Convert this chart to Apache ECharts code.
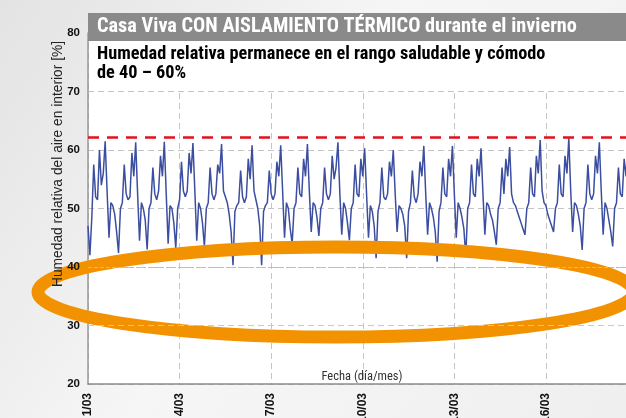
<!DOCTYPE html>
<html><head><meta charset="utf-8">
<script src="https://cdn.jsdelivr.net/npm/echarts@6/dist/echarts.min.js"></script>
<style>html,body{margin:0;padding:0;background:#f2f2f2;}#c{width:626px;height:418px;}</style>
</head><body><div id="c"></div>
<script>
const titleText = 'Casa Viva CON AISLAMIENTO TÉRMICO durante el invierno';
const subtitleLines = ['Humedad relativa permanece en el rango saludable y cómodo', 'de 40 – 60%'];
const yAxisTitle = 'Humedad relativa del aire en interior [%]';
const xAxisTitle = 'Fecha (día/mes)';
const xTickLabels = ['1/03', '4/03', '7/03', '10/03', '13/03', '16/03', '19/03'];
const stepHours = 1.5;          // one reading every 1.5 h starting 1/03 00:00
const upperLimit = 62.1;        // red dashed line
const comfortLines = [40, 30];  // faint pink lines
// relative humidity [%]
const humidity = [
  47, 42, 48.5, 57.5, 52, 51.5, 60, 54, 56,
  61.5, 53, 45, 51, 50.5, 49, 46, 42.4, 50, 51, 57.5, 52.5, 51.5, 52, 59.5, 55.5,
  61.3, 52.5, 44.5, 51, 50, 48, 43, 50, 51, 57, 52.5, 51.5, 53, 59, 55.5,
  61.4, 52.5, 44, 50.5, 50, 47.5, 43.2, 50, 51.5, 58, 53, 52, 53, 59.5, 56,
  61.2, 53, 44.5, 51, 50, 47.5, 43.5, 50, 51, 57, 52.5, 51.5, 52.5, 57.5, 56,
  61, 53, 52, 51, 49, 46, 40.3, 49.5, 50.5, 51, 56.5, 52, 51, 52, 58.5, 55,
  60.8, 53, 51.5, 50, 47, 40.3, 49.5, 50.5, 51, 56.5, 52.5, 51.5, 52.5, 58, 55.5,
  60.8, 53, 45, 51, 50, 46.5, 44, 50, 51, 57, 52.5, 52, 58.5, 55.5,
  61, 53, 46, 51, 50.5, 48.5, 45.3, 50, 51, 57, 52.5, 51.5, 52.5, 59, 55, 57,
  61.3, 52.5, 45.5, 51, 50, 47.5, 44.6, 50, 51, 57.5, 52.5, 52, 58.5, 55.5,
  60.3, 52.5, 45, 50.5, 49.5, 47, 41.5, 49.5, 51, 57, 52, 51.5, 52.5, 58, 55.5,
  60, 52.5, 46, 50.5, 50, 49, 47, 41.5, 49.5, 51, 56.5, 52, 51, 52.5, 58, 55.5,
  60.7, 52.5, 45.5, 51, 50, 48.5, 46, 40.9, 49.5, 51, 57, 52.5, 52, 58.5, 55.5,
  60.7, 52.5, 45, 51, 50, 48.5, 46.5, 41.8, 50, 51, 57.5, 52.5, 52, 58.5, 55.5,
  60.3, 52.5, 45.5, 51, 50.5, 49, 48, 46, 43.8, 50, 51, 57, 52.5, 58.5, 55.5,
  60.5, 52.5, 51, 50.5, 49.5, 48.5, 47.5, 46.5, 45.5, 50, 51, 57, 52.5, 52, 59, 56,
  61.7, 53, 51, 50.5, 49, 48, 47, 46, 50, 51, 57.5, 52.5, 52, 59, 56,
  62, 53, 46, 51, 50.5, 49, 47, 42.9, 50, 51, 57.5, 52.5, 51.5, 52.5, 59, 56,
  61.3, 53, 45.5, 51, 50, 48, 46, 43.5, 50, 51, 57, 52.5, 52, 58.5, 55.5,
  61, 53, 45, 51, 50, 48
];

const narrow = '"Liberation Sans Narrow", "Roboto Condensed", "DejaVu Sans Condensed", sans-serif';
const chart = echarts.init(document.getElementById('c'), null, {renderer: 'canvas'});
const yBase = {type: 'value', min: 20, max: 80, interval: 10, position: 'left'};
chart.setOption({
  animation: false,
  backgroundColor: {type: 'linear', x: 0, y: 0, x2: 1, y2: 1,
    colorStops: [{offset: 0, color: '#e3e3e3'}, {offset: 0.45, color: '#f6f6f6'}, {offset: 1, color: '#efefef'}]},
  grid: {left: 88, top: 33, width: 549.5, height: 351, show: true, backgroundColor: '#ffffff', borderWidth: 0,
    containLabel: false, outerBoundsMode: 'none'},
  xAxis: {
    type: 'value', min: 0, max: 432, interval: 72,
    axisLine: {lineStyle: {color: '#8c8c8c', width: 1.5}},
    axisTick: {show: false},
    axisLabel: {rotate: 90, margin: 9, fontSize: 12, fontWeight: 'bold', color: '#111',
      fontFamily: '"Liberation Sans", Arial, sans-serif',
      formatter: v => xTickLabels[Math.round(v / 72)]},
    splitLine: {show: true, lineStyle: {color: '#c4c4c4', type: [6, 4], width: 1}}
  },
  yAxis: [
    Object.assign({}, yBase, {
      axisLine: {show: true, lineStyle: {color: '#999', width: 1.5}},
      axisTick: {show: false}, axisLabel: {show: false},
      splitLine: {show: true, lineStyle: {color: '#c4c4c4', type: [6, 4], width: 1}}, z: 0
    }),
    Object.assign({}, yBase, {
      axisLine: {show: false}, axisTick: {show: false}, splitLine: {show: false},
      axisLabel: {show: true, margin: 8, fontSize: 11.5, fontWeight: 'bold', color: '#111',
        fontFamily: '"Liberation Sans", Arial, sans-serif'}, z: 10
    })
  ],
  series: [{
    type: 'line', yAxisIndex: 0,
    data: humidity.map((v, i) => [i * stepHours, v]),
    showSymbol: false, symbol: 'none',
    lineStyle: {color: '#3c4ea0', width: 1.5},
    z: 2,
    markLine: {
      silent: true, symbol: 'none', label: {show: false},
      data: [
        {yAxis: comfortLines[0], lineStyle: {color: '#f2a6a6', type: [4, 2], width: 1}},
        {yAxis: comfortLines[1], lineStyle: {color: '#f0b8b8', type: [6, 4], width: 1}},
        {yAxis: upperLimit, lineStyle: {color: '#e3101c', type: [11, 8], width: 2.5}}
      ]
    }
  }],
  graphic: [
    {type: 'rect', z: 5, shape: {x: 89, y: 40, width: 560, height: 49}, style: {fill: '#ffffff'}},
    {type: 'rect', z: 20, shape: {x: 88, y: 13, width: 560, height: 28}, style: {fill: '#8a8a8a'}},
    {type: 'text', z: 21, x: 97, y: 27,
      style: {text: titleText, fill: '#ffffff', font: 'bold 20.3px ' + narrow, textVerticalAlign: 'middle'}},
    {type: 'text', z: 21, x: 97, y: 45,
      style: {text: subtitleLines.join('\n'), fill: '#000', font: 'bold 18.3px ' + narrow, lineHeight: 19, textVerticalAlign: 'top'}},
    {type: 'ellipse', z: 3, shape: {cx: 336, cy: 292, rx: 298, ry: 45},
      style: {fill: 'none', stroke: '#f39200', lineWidth: 13}},
    {type: 'text', z: 21, x: 58, y: 164, rotation: Math.PI / 2,
      style: {text: yAxisTitle, fill: '#222', font: '13.8px "Liberation Sans", Arial, sans-serif',
        textAlign: 'center', textVerticalAlign: 'middle'}},
    {type: 'text', z: 21, x: 362, y: 377,
      style: {text: xAxisTitle, fill: '#333', font: '12.5px ' + narrow,
        textAlign: 'center', textVerticalAlign: 'middle'}}
  ]
});
</script></body></html>
